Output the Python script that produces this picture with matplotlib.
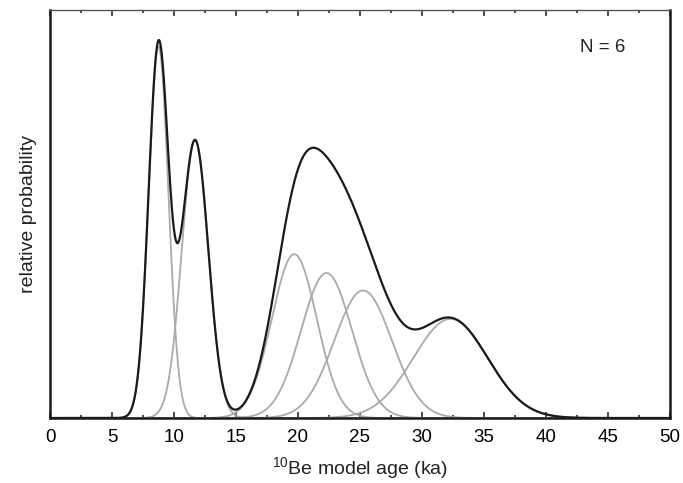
import numpy as np
import matplotlib
matplotlib.use("Agg")
import matplotlib.pyplot as plt
from matplotlib.ticker import MultipleLocator

# Sample ages (ka) and 1-sigma uncertainties (ka)
ages = [8.75, 11.7, 19.7, 22.3, 25.25, 32.3]
errors = [0.8, 1.07, 1.815, 2.05, 2.33, 3.0]
n_label = "N = 6"
xticks = [0, 5, 10, 15, 20, 25, 30, 35, 40, 45, 50]

plt.rcParams['font.family'] = ['Liberation Sans', 'DejaVu Sans']
plt.rcParams['mathtext.fontset'] = 'custom'
plt.rcParams['mathtext.rm'] = 'Liberation Sans'

x = np.linspace(0, 50, 2001)
pdfs = [np.exp(-0.5 * ((x - a) / s) ** 2) / (s * np.sqrt(2 * np.pi)) for a, s in zip(ages, errors)]
total = np.sum(pdfs, axis=0)

fig = plt.figure(figsize=(6.83, 4.83), dpi=100)
ax = fig.add_axes([50 / 683, 65 / 483, 620 / 683, 408 / 483])

for p in pdfs:
    ax.plot(x, p, color='#aaaaaa', lw=1.3, zorder=2)
ax.plot(x, total, color='#1a1a1a', lw=1.6, zorder=3)

ax.set_xlim(0, 50)
ax.set_ylim(0, total.max() * 408 / 378)
ax.set_xticks(xticks)
ax.xaxis.set_minor_locator(MultipleLocator(2.5))
ax.set_yticks([])
ax.tick_params(axis='x', which='both', direction='in', top=True, bottom=True,
               labelsize=13.5, pad=8, width=1.1, color='#1a1a1a')
ax.tick_params(axis='x', which='major', length=4)
ax.tick_params(axis='x', which='minor', length=2.5)

for side in ['left', 'bottom', 'right']:
    ax.spines[side].set_linewidth(1.8)
    ax.spines[side].set_color('#1a1a1a')
ax.spines['top'].set_linewidth(1.0)
ax.spines['top'].set_color('#555555')

ax.set_xlabel(r'$^{\mathrm{10}}$Be model age (ka)', fontsize=14, color='#222222', labelpad=7)
ax.set_ylabel('relative probability', fontsize=14, color='#222222')
ax.yaxis.set_label_coords(-0.021, 0.5)

ax.text(0.892, 0.909, n_label, transform=ax.transAxes, ha='center', va='center',
        fontsize=13.5, color='#222222')

fig.savefig('out.png', dpi=100)
